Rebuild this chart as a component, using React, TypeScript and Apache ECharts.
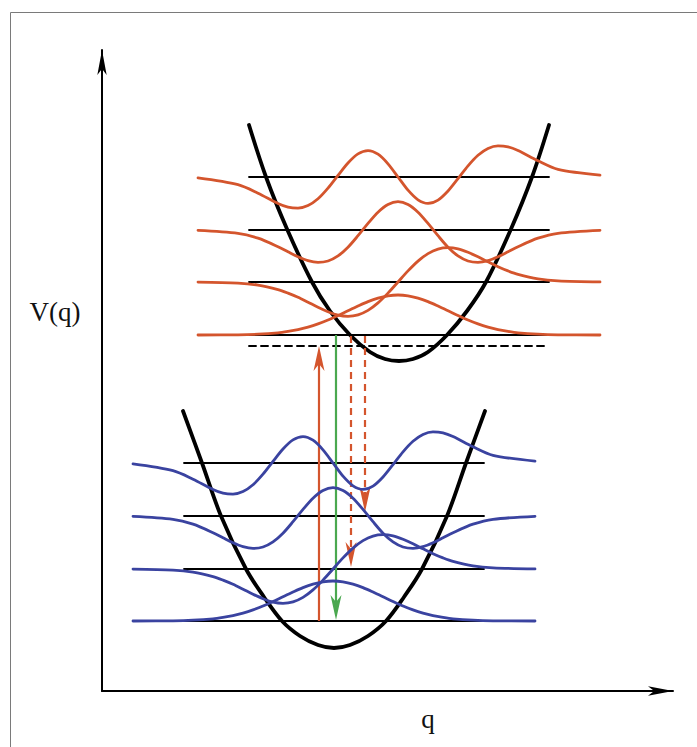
import React, { useEffect, useRef } from "react";
import * as echarts from "echarts";

// Coordinates: q measured from the vertical axis, V measured up from the q axis.
const upperWell: number[][] = [
  [147, 566], [164, 514], [185, 462], [210, 409], [228, 380], [248, 356], [268, 339], [283, 332],
  [297, 330], [311, 332], [326, 339], [345, 356], [365, 380], [384, 409], [409, 462], [430, 514], [447, 566],
];
const lowerWell: number[][] = [
  [81, 280], [100, 228], [119, 175], [144, 122], [162, 94], [180, 70], [198, 55], [216, 46],
  [232, 43], [248, 46], [266, 55], [284, 70], [302, 94], [320, 122], [345, 175], [364, 228], [383, 280],
];

const upperLevels = [514, 461, 409, 356];
const upperLevelRange = [147, 447];
const lowerLevels = [228, 175, 122, 70];
const lowerLevelRange = [82, 382];
const dashedLevel = 345;

// wavefunction sample positions
const upperQ = [96, 136, 156, 176, 186, 196, 206, 216, 226, 236, 246, 256, 266, 276, 286, 296, 306, 316, 326, 336, 346, 356, 366, 376, 386, 396, 406, 416, 436, 456, 498];
const lowerQ = [31, 71, 91, 111, 121, 131, 141, 151, 161, 171, 181, 191, 201, 211, 221, 231, 241, 251, 261, 271, 281, 291, 301, 311, 321, 331, 341, 351, 371, 391, 433];

const upperPsi3 = [513.1, 506.3, 497.8, 487.5, 483.8, 482.8, 485.4, 492.2, 502.8, 515.6, 528.0, 537.1, 540.4, 536.8, 527.2, 514, 500.8, 491.2, 487.6, 490.9, 500.0, 512.4, 525.2, 535.8, 542.6, 545.2, 544.2, 540.5, 530.2, 521.7, 515.9];
const upperPsi2 = [460.7, 457.7, 452.8, 444.3, 439.2, 434.2, 430.3, 428.6, 430.0, 435.1, 443.8, 455.3, 467.6, 478.8, 486.5, 489.3, 486.5, 478.8, 467.6, 455.3, 443.8, 435.1, 430.0, 428.6, 430.3, 434.2, 439.2, 444.3, 452.8, 457.7, 460.7];
const upperPsi1 = [408.9, 407.9, 405.9, 401.4, 397.9, 393.7, 388.8, 383.8, 379.3, 375.9, 374.7, 376.1, 380.6, 388.1, 397.9, 409, 420.1, 429.9, 437.4, 441.9, 443.3, 442.1, 438.7, 434.2, 429.2, 424.3, 420.1, 416.6, 412.1, 410.1, 409.1];
const upperPsi0 = [356, 356.2, 356.8, 358.2, 359.6, 361.4, 363.9, 367.1, 371.0, 375.5, 380.3, 385.0, 389.4, 392.9, 395.2, 396, 395.2, 392.9, 389.4, 385.0, 380.3, 375.5, 371.0, 367.1, 363.9, 361.4, 359.6, 358.2, 356.8, 356.2, 356];

const lowerPsi3 = [227.1, 220.3, 211.8, 201.5, 197.8, 196.8, 199.4, 206.2, 216.8, 229.6, 242.0, 251.1, 254.4, 250.8, 241.2, 228, 214.8, 205.2, 201.6, 204.9, 214.0, 226.4, 239.2, 249.8, 256.6, 259.2, 258.2, 254.5, 244.2, 235.7, 229.9];
const lowerPsi2 = [174.7, 171.7, 166.8, 158.3, 153.2, 148.2, 144.3, 142.6, 144.0, 149.1, 157.8, 169.3, 181.6, 192.8, 200.5, 203.3, 200.5, 192.8, 181.6, 169.3, 157.8, 149.1, 144.0, 142.6, 144.3, 148.2, 153.2, 158.3, 166.8, 171.7, 174.7];
const lowerPsi1 = [121.9, 120.9, 118.9, 114.4, 110.9, 106.7, 101.8, 96.8, 92.3, 88.9, 87.7, 89.1, 93.6, 101.1, 110.9, 122, 133.1, 142.9, 150.4, 154.9, 156.3, 155.1, 151.7, 147.2, 142.2, 137.3, 133.1, 129.6, 125.1, 123.1, 122.1];
const lowerPsi0 = [70, 70.2, 70.8, 72.2, 73.6, 75.4, 77.9, 81.1, 85.0, 89.5, 94.3, 99.0, 103.4, 106.9, 109.2, 110, 109.2, 106.9, 103.4, 99.0, 94.3, 89.5, 85.0, 81.1, 77.9, 75.4, 73.6, 72.2, 70.8, 70.2, 70];

// transitions: [q, V from, V to]
const transitions: number[][] = [
  [217, 70, 345],
  [234, 356, 71],
  [249, 355, 124],
  [263, 355, 179],
];
const transitionKinds = ["absorb", "emit", "nonrad", "nonrad"];

const ORANGE = "#d4552d";
const BLUE = "#3a43a0";
const GREEN = "#4aa84f";

const zip = (xs: number[], ys: number[]) => xs.map((x, i) => [x, ys[i]]);

export default function App() {
  const ref = useRef<HTMLDivElement>(null);
  useEffect(() => {
    document.body.style.margin = "0";
    if (!ref.current) return;
    const chart = echarts.init(ref.current, null, { renderer: "svg" });

    const lineSeries = (data: number[][], color: string, width: number, z: number, smooth: number | boolean = 0.3, dash?: number[]) => ({
      type: "line",
      data,
      smooth,
      symbol: "none",
      showSymbol: false,
      silent: true,
      z,
      lineStyle: { color, width, type: dash ? dash : "solid", cap: "round", join: "round" },
    });

    const series: any[] = [];
    upperLevels.forEach((v) =>
      series.push(lineSeries([[upperLevelRange[0], v], [upperLevelRange[1], v]], "#000", 1.8, 2, false))
    );
    lowerLevels.forEach((v) =>
      series.push(lineSeries([[lowerLevelRange[0], v], [lowerLevelRange[1], v]], "#000", 1.8, 2, false))
    );
    series.push(lineSeries([[upperLevelRange[0], dashedLevel], [upperLevelRange[1], dashedLevel]], "#000", 1.9, 2, false, [7, 5]));
    series.push(lineSeries(upperWell, "#000", 3.8, 3, 0.35));
    series.push(lineSeries(lowerWell, "#000", 3.8, 3, 0.35));

    [upperPsi3, upperPsi2, upperPsi1, upperPsi0].forEach((d) => series.push(lineSeries(zip(upperQ, d), ORANGE, 2.8, 5)));
    [lowerPsi3, lowerPsi2, lowerPsi1, lowerPsi0].forEach((d) => series.push(lineSeries(zip(lowerQ, d), BLUE, 2.8, 5)));

    series.push({
      type: "custom",
      silent: true,
      z: 4,
      data: transitions,
      renderItem: (params: any, api: any) => {
        const kind = transitionKinds[params.dataIndex];
        const color = kind === "emit" ? GREEN : ORANGE;
        const dash = kind === "nonrad" ? [7, 5] : null;
        const q = api.value(0);
        const p1 = api.coord([q, api.value(1)]);
        const p2 = api.coord([q, api.value(2)]);
        const dir = p2[1] > p1[1] ? 1 : -1;
        const L = 25;
        const W = 5.5;
        const tipX = p2[0];
        const tipY = p2[1];
        const baseY = tipY - dir * L;
        const notchY = tipY - dir * L * 0.72;
        return {
          type: "group",
          children: [
            {
              type: "line",
              shape: { x1: p1[0], y1: p1[1], x2: p2[0], y2: notchY },
              style: { stroke: color, lineWidth: 2.2, lineDash: dash || undefined },
            },
            {
              type: "polygon",
              shape: {
                points: [
                  [tipX, tipY],
                  [tipX + W, baseY],
                  [tipX, notchY],
                  [tipX - W, baseY],
                ],
              },
              style: { fill: color },
            },
          ],
        };
      },
    });

    chart.setOption({
      animation: false,
      grid: { left: 102, right: 24, top: 50, bottom: 56 },
      xAxis: {
        type: "value",
        min: 0,
        max: 571,
        axisLine: { show: true, symbol: ["none", "arrow"], symbolSize: [7, 25], lineStyle: { color: "#000", width: 2 } },
        axisTick: { show: false },
        axisLabel: { show: false },
        splitLine: { show: false },
      },
      yAxis: {
        type: "value",
        min: 0,
        max: 641,
        axisLine: { show: true, symbol: ["none", "arrow"], symbolSize: [7, 25], lineStyle: { color: "#000", width: 2 } },
        axisTick: { show: false },
        axisLabel: { show: false },
        splitLine: { show: false },
      },
      graphic: [
        {
          type: "rect",
          silent: true,
          shape: { x: 10.5, y: 12.5, width: 760, height: 800 },
          style: { fill: "none", stroke: "#7a7a7a", lineWidth: 1 },
          z: 0,
        },
        {
          type: "text",
          silent: true,
          style: {
            text: "V(q)",
            x: 55,
            y: 312,
            textAlign: "center",
            textVerticalAlign: "middle",
            fontSize: 27,
            fontFamily: "Liberation Serif",
            fill: "#111",
          },
        },
        {
          type: "text",
          silent: true,
          style: {
            text: "q",
            x: 428,
            y: 719,
            textAlign: "center",
            textVerticalAlign: "middle",
            fontSize: 27,
            fontFamily: "Liberation Serif",
            fill: "#111",
          },
        },
      ],
      series,
    });
    return () => chart.dispose();
  }, []);
  return <div ref={ref} style={{ width: 697, height: 747 }} />;
}
